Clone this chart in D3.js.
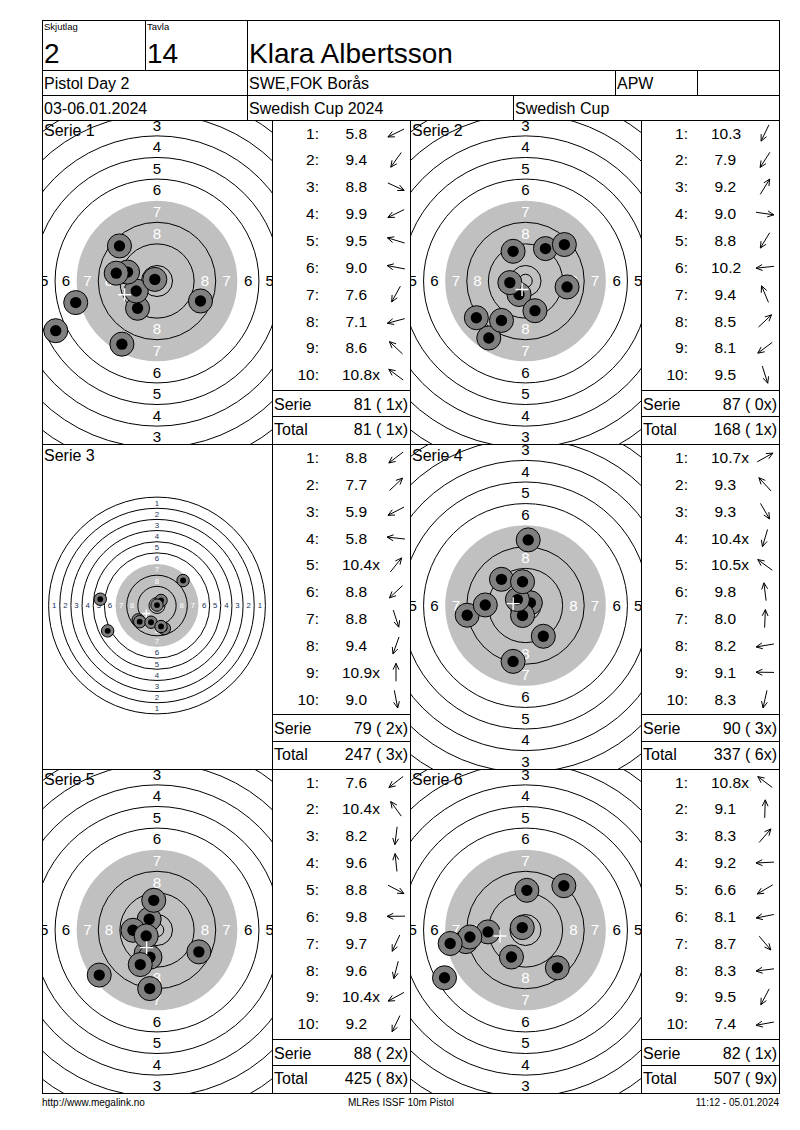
<!DOCTYPE html>
<html>
<head>
<meta charset="utf-8">
<script src="https://cdn.jsdelivr.net/npm/d3@7"></script>
<style>
  body { margin: 0; background: #fff; }
  svg text { font-family: "Liberation Sans", Arial, sans-serif; }
</style>
</head>
<body>
<div class="vis-target"></div>
<script>
const headerCaptions = ["Skjutlag", "Tavla"];
const headerValues = ["2", "14", "Klara Albertsson"];
const eventRow = ["Pistol Day 2", "SWE,FOK Borås", "APW", ""];
const dateRow = ["03-06.01.2024", "Swedish Cup 2024", "Swedish Cup"];
const footerTexts = ["http://www.megalink.no", "MLRes ISSF 10m Pistol", "11:12 - 05.01.2024"];

const serieNames = ["Serie 1", "Serie 2", "Serie 3", "Serie 4", "Serie 5", "Serie 6"];

const shotScores = [
  ["5.8", "9.4", "8.8", "9.9", "9.5", "9.0", "7.6", "7.1", "8.6", "10.8x"],
  ["10.3", "7.9", "9.2", "9.0", "8.8", "10.2", "9.4", "8.5", "8.1", "9.5"],
  ["8.8", "7.7", "5.9", "5.8", "10.4x", "8.8", "8.8", "9.4", "10.9x", "9.0"],
  ["10.7x", "9.3", "9.3", "10.4x", "10.5x", "9.8", "8.0", "8.2", "9.1", "8.3"],
  ["7.6", "10.4x", "8.2", "9.6", "8.8", "9.8", "9.7", "9.6", "10.4x", "9.2"],
  ["10.8x", "9.1", "8.3", "9.2", "6.6", "8.1", "8.7", "8.3", "9.5", "7.4"]
];

// shot centres in mm from the target centre (x right, y up)
const shotX = [
  [-37.5, -7.2, 16.1, -7.7, -10.9, -15.1, -13.0, -30.1, -13.9, -0.8],
  [-2.4, -13.6, 7.4, 15.4, -8.9, -5.8, -4.6, 14.4, -18.2, 3.5],
  [-13.5, 18.7, -35.4, -40.7, 2.9, -12.4, 5.3, -4.3, 0.0, 2.9],
  [1.8, -8.9, 6.6, -1.1, -3.0, -1.1, 1.0, -21.6, -14.9, -4.6],
  [-21.4, -2.9, -2.7, -1.2, 15.5, -8.9, -4.0, -2.6, -4.0, -6.2],
  [-1.2, 0.5, 14.2, -13.9, -30.0, -22.1, 11.8, -20.6, -5.2, -27.9]
];
const shotY = [
  [-18.4, -10.1, -7.4, -3.7, 3.3, 2.9, -23.4, -8.0, 13.0, 0.6],
  [-5.0, -21.1, 12.0, -2.2, -14.6, -0.6, 11.0, 13.5, -13.6, -11.0],
  [-10.3, 17.9, -18.2, 4.5, 3.6, -11.6, -16.5, -12.0, 0.3, -15.1],
  [1.0, 9.7, -11.4, -3.7, 2.2, 8.8, 24.3, -3.6, 0.2, -20.7],
  [-16.7, 4.0, -21.7, 11.0, -8.1, -0.1, -8.6, -10.1, -2.2, -12.8],
  [0.9, 14.7, 16.4, -0.7, -17.7, -4.3, -14.0, -2.6, -10.0, -5.0]
];

const serieSums = ["81 ( 1x)", "87 ( 0x)", "79 ( 2x)", "90 ( 3x)", "88 ( 2x)", "82 ( 1x)"];
const totalSums = ["81 ( 1x)", "168 ( 1x)", "247 ( 3x)", "337 ( 6x)", "425 ( 8x)", "507 ( 9x)"];

const ringValues = d3.range(1, 11);
const labelledRings = d3.range(1, 9);

// ---- layout ----
const left = 42, right = 779;
const headerY = [20, 70, 95, 120];
const rowTops = [120, 444.5, 769];
const rowH = 324.5;
const cellCols = [[42, 272, 410], [410, 641, 779]];   // target x0, table x0, table x1
const pxPerMm = [2.7, 2.7, 1.394, 2.7, 2.7, 2.7]; // display zoom of each target

const ringR = n => 5.75 + (10 - n) * 8; // ISSF 10m pistol ring radius, mm
const crisp = v => Math.round(v - 0.5) + 0.5;

const svg = d3.select(".vis-target")
    .append("svg")
    .attr("width", 800)
    .attr("height", 1130);

svg.append("rect").attr("width", 800).attr("height", 1130).attr("fill", "#fff");

// header texts
const hdr = svg.append("g");
hdr.selectAll(".cap")
    .data(headerCaptions)
    .join("text")
    .attr("x", (d, i) => [44, 147][i])
    .attr("y", 30)
    .attr("font-size", 9.5)
    .text(d => d);
hdr.selectAll(".val")
    .data(headerValues)
    .join("text")
    .attr("x", (d, i) => [44, 147, 249][i])
    .attr("y", 63)
    .attr("font-size", 28)
    .text(d => d);
hdr.selectAll(".ev")
    .data(eventRow)
    .join("text")
    .attr("x", (d, i) => [44, 249, 617, 699][i])
    .attr("y", 89)
    .attr("font-size", 16)
    .text(d => d);
hdr.selectAll(".dt")
    .data(dateRow)
    .join("text")
    .attr("x", (d, i) => [44, 249, 515][i])
    .attr("y", 114)
    .attr("font-size", 16)
    .text(d => d);

const defs = svg.append("defs");

serieNames.forEach(function (name, i) {
    const row = Math.floor(i / 2), col = i % 2;
    const [x0, tx0, tx1] = cellCols[col];
    const top = rowTops[row];
    const k = pxPerMm[i];
    const cx = (x0 + tx0) / 2, cy = top + 161;

    // mm -> px
    const x = d3.scaleLinear().domain([-1, 1]).range([cx - k, cx + k]);
    const y = d3.scaleLinear().domain([-1, 1]).range([cy + k, cy - k]);
    const r = d3.scaleLinear().domain([0, 1]).range([0, k]);

    defs.append("clipPath").attr("id", "clip" + i)
        .append("rect")
        .attr("x", x0).attr("y", top)
        .attr("width", tx0 - x0).attr("height", rowH);

    const g = svg.append("g").attr("clip-path", "url(#clip" + i + ")");

    // rings 1..6 outlines
    g.selectAll(".ring-out")
        .data(ringValues.filter(n => n <= 6))
        .join("circle")
        .attr("cx", x(0)).attr("cy", y(0))
        .attr("r", n => r(ringR(n)))
        .attr("fill", "none")
        .attr("stroke", "#000")
        .attr("stroke-width", 1);

    // aiming area = ring 7
    g.append("circle")
        .attr("cx", x(0)).attr("cy", y(0))
        .attr("r", r(ringR(7)))
        .attr("fill", "#c0c0c0");

    // rings 8..10 and inner ten
    g.selectAll(".ring-in")
        .data(ringValues.filter(n => n >= 8).map(ringR).concat([2.5]))
        .join("circle")
        .attr("cx", x(0)).attr("cy", y(0))
        .attr("r", d => r(d))
        .attr("fill", "none")
        .attr("stroke", "#000")
        .attr("stroke-width", 1);

    // ring numbers on the four axes (only those inside the cell)
    const labelData = [];
    labelledRings.forEach(n => {
        const m = (ringR(n) + ringR(n + 1)) / 2;
        [[0, m], [0, -m], [-m, 0], [m, 0]].forEach(p => labelData.push({ n: n, px: p[0], py: p[1] }));
    });
    const inside = d => x(d.px) > x0 - 2 && x(d.px) < tx0 + 2 && y(d.py) > top && y(d.py) < top + rowH;
    const smallTarget = k < 2;
    g.selectAll(".rl")
        .data(labelData.filter(inside))
        .join("text")
        .attr("x", d => x(d.px))
        .attr("y", d => y(d.py))
        .attr("dy", "0.36em")
        .attr("text-anchor", "middle")
        .attr("font-size", r(5.6))
        .attr("fill", d => d.n >= 7 ? "#fff" : (smallTarget ? "#22335a" : "#000"))
        .text(d => d.n);

    // shots
    const shots = shotX[i].map((sx, j) => ({ x: sx, y: shotY[i][j] }));
    const sg = g.selectAll(".shot")
        .data(shots)
        .join("g");
    sg.append("circle")
        .attr("cx", d => x(d.x)).attr("cy", d => y(d.y))
        .attr("r", r(4.45))
        .attr("fill", "#808080")
        .attr("stroke", "#000")
        .attr("stroke-width", 1);
    sg.append("circle")
        .attr("cx", d => x(d.x)).attr("cy", d => y(d.y))
        .attr("r", r(2.1))
        .attr("fill", "#000");

    // mean point of impact
    const mx = x(d3.mean(shots, d => d.x)), my = y(d3.mean(shots, d => d.y));
    const arm = smallTarget ? 4 : 6.5;
    g.append("path")
        .attr("d", `M${mx - arm},${my}H${mx + arm}M${mx},${my - arm}V${my + arm}`)
        .attr("stroke", "#fff")
        .attr("stroke-width", 1.4)
        .attr("fill", "none");

    svg.append("text")
        .attr("x", x0 + 2)
        .attr("y", top + 16)
        .attr("font-size", 16)
        .text(name);

    // score table
    const rowY = j => top + 13 + j * 26.85;
    const tg = svg.append("g");
    tg.selectAll(".idx")
        .data(shotScores[i])
        .join("text")
        .attr("x", tx0 + 47)
        .attr("y", (d, j) => rowY(j))
        .attr("dy", "0.36em")
        .attr("text-anchor", "end")
        .attr("font-size", 15.5)
        .text((d, j) => (j + 1) + ":");
    tg.selectAll(".sc")
        .data(shotScores[i])
        .join("text")
        .attr("x", d => tx0 + (parseFloat(d) < 10 ? 73.5 : 70))
        .attr("y", (d, j) => rowY(j))
        .attr("dy", "0.36em")
        .attr("font-size", 15.5)
        .text(d => d);

    // direction arrows, from the shot position
    const L = 18, head = 7, spread = 25 * Math.PI / 180;
    tg.selectAll(".arw")
        .data(shots)
        .join("path")
        .attr("d", (d, j) => {
            const a = Math.atan2(d.y, d.x);
            const ux = Math.cos(a), uy = -Math.sin(a);
            const ax = tx0 + 124, ay = rowY(j);
            const tipX = ax + ux * L / 2, tipY = ay + uy * L / 2;
            const p = d3.path();
            p.moveTo(ax - ux * L / 2, ay - uy * L / 2);
            p.lineTo(tipX, tipY);
            [spread, -spread].forEach(s => {
                const hx = ux * Math.cos(s) - uy * Math.sin(s);
                const hy = ux * Math.sin(s) + uy * Math.cos(s);
                p.moveTo(tipX - hx * head, tipY - hy * head);
                p.lineTo(tipX, tipY);
            });
            return p.toString();
        })
        .attr("fill", "none")
        .attr("stroke", "#000")
        .attr("stroke-width", 1);

    tg.selectAll(".sum")
        .data([["Serie", serieSums[i]], ["Total", totalSums[i]]])
        .join("g")
        .each(function (d, j) {
            const yy = top + 284 + j * 25.7;
            d3.select(this).append("text")
                .attr("x", tx0 + 2).attr("y", yy).attr("dy", "0.36em")
                .attr("font-size", 16).text(d[0]);
            d3.select(this).append("text")
                .attr("x", tx1 - 2).attr("y", yy).attr("dy", "0.36em")
                .attr("text-anchor", "end")
                .attr("font-size", 16).text(d[1]);
        });
});

// grid lines
const segs = [];
headerY.concat(rowTops.slice(1), [rowTops[2] + rowH]).forEach(v => segs.push([left, v, right, v]));
segs.push([left, 20, left, rowTops[2] + rowH], [right, 20, right, rowTops[2] + rowH]);
[145, 247].forEach(v => segs.push([v, 20, v, 70]));
[247, 615, 697].forEach(v => segs.push([v, 70, v, 95]));
[247, 513].forEach(v => segs.push([v, 95, v, 120]));
[272, 410, 641].forEach(v => segs.push([v, 120, v, rowTops[2] + rowH]));
rowTops.forEach(t => {
    cellCols.forEach(c => {
        segs.push([c[1], t + 270, c[2], t + 270]);
        segs.push([c[1], t + 296.5, c[2], t + 296.5]);
    });
});
svg.append("g")
    .selectAll("line")
    .data(segs)
    .join("line")
    .attr("x1", d => crisp(d[0])).attr("y1", d => crisp(d[1]))
    .attr("x2", d => crisp(d[2])).attr("y2", d => crisp(d[3]))
    .attr("stroke", "#000")
    .attr("stroke-width", 1)
    .attr("stroke-linecap", "square");

// footer
svg.selectAll(".foot")
    .data(footerTexts)
    .join("text")
    .attr("x", (d, i) => [left, 401, right][i])
    .attr("y", 1106)
    .attr("text-anchor", (d, i) => ["start", "middle", "end"][i])
    .attr("font-size", 10)
    .text(d => d);
</script>
</body>
</html>
